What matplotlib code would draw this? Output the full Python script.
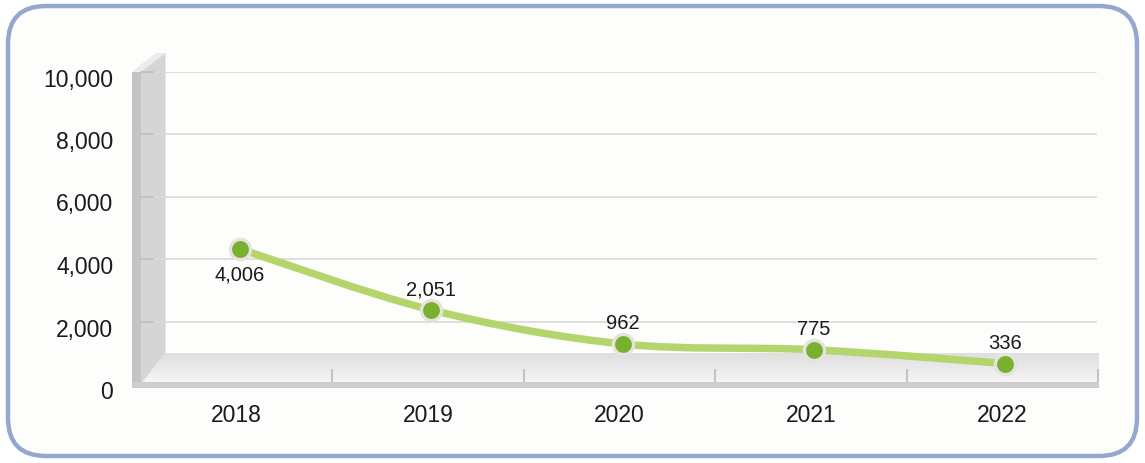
import numpy as np
import matplotlib
matplotlib.use("Agg")
import matplotlib.pyplot as plt
from matplotlib.patches import FancyBboxPatch, Polygon, PathPatch
from matplotlib.path import Path
from matplotlib.transforms import offset_copy, ScaledTranslation

plt.rcParams['font.family'] = ['Liberation Sans', 'DejaVu Sans']

# data
years = ['2018', '2019', '2020', '2021', '2022']
values = [4006, 2051, 962, 775, 336]
value_labels = ['4,006', '2,051', '962', '775', '336']
label_below = [True, False, False, False, False]
yticks = [0, 2000, 4000, 6000, 8000, 10000]
ytick_labels = ['0', '2,000', '4,000', '6,000', '8,000', '10,000']

W, H = 1145, 464
fig = plt.figure(figsize=(W / 100, H / 100), dpi=100)
fig.patch.set_facecolor('white')

# background layer in image pixel coords (y down)
bg = fig.add_axes([0, 0, 1, 1], zorder=0)
bg.axis('off')

bg.add_patch(FancyBboxPatch((8, 7), W - 16, H - 14,
                            boxstyle="round,pad=0,rounding_size=38",
                            facecolor='#fdfdfc', edgecolor='#95a7cf', lw=3.2))

# left wall
bg.add_patch(Polygon([(141, 72.5), (165.5, 54), (165.5, 354), (141, 385)],
                     closed=True, facecolor='#d6d5d6', edgecolor='none'))
bg.add_patch(Polygon([(132, 72.5), (141, 72.5), (165.5, 54), (156, 54)],
                     closed=True, facecolor='#ebebeb', edgecolor='none'))
bg.add_patch(Polygon([(132, 72.5), (141, 72.5), (141, 388), (132, 388)],
                     closed=True, facecolor='#c4c3c7', edgecolor='none'))

# floor with gradient
floor = Polygon([(141, 385), (165.5, 354), (1099, 354), (1099, 383), (141, 383)],
                closed=True, facecolor='none', edgecolor='none')
bg.add_patch(floor)
grad = np.linspace(0, 1, 64).reshape(-1, 1)
img = bg.imshow(grad, cmap=matplotlib.colors.LinearSegmentedColormap.from_list(
    'fl', ['#e0dedf', '#f5f5f5']), extent=(141, 1099, 383, 354),
    aspect='auto', zorder=2, interpolation='bilinear')
img.set_clip_path(floor)
bg.add_patch(Polygon([(132, 383), (1099, 383), (1099, 388.5), (132, 388.5)],
                     closed=True, facecolor='#cfcdd0', edgecolor='none', zorder=3))
bg.set_xlim(0, W)
bg.set_ylim(H, 0)

# main axes
ax = fig.add_axes([141 / W, (H - 385) / H, (1098 - 141) / W, (385 - 72.5) / H],
                  zorder=1)
ax.set_facecolor('none')
x = np.arange(len(years))
ax.set_xlim(-0.5, 4.5)
ax.set_ylim(0, 10000)
for s in ax.spines.values():
    s.set_visible(False)

for t in yticks[1:]:
    ax.plot([-0.5, 4.49], [t, t], color='#d9d9d9', lw=1.2, zorder=1)
    ax.plot([-0.5, -0.437], [t, t], color='#bdbdbd', lw=1.2, zorder=1.5,
            clip_on=False)

# floor separators
ax.vlines(x + 0.5, 60, 480, color='#c4c4c4', lw=1.5, zorder=2, clip_on=False)

ax.set_yticks(yticks)
ax.set_yticklabels(ytick_labels, fontsize=16.5, color='#1a1a1a')
ax.set_xticks(x)
ax.set_xticklabels(years, fontsize=16.5, color='#1a1a1a')
ax.tick_params(axis='y', length=0, pad=20)
ax.tick_params(axis='x', length=0, pad=14)
for tk in ax.yaxis.get_major_ticks():
    tk.label1.set_transform(tk.label1.get_transform() +
                            ScaledTranslation(0, -5 / 100, fig.dpi_scale_trans))

# smoothed line (Catmull-Rom through the data points)
pts = np.column_stack([x, values]).astype(float)
ext = np.vstack([pts[0], pts, pts[-1]])
verts = [tuple(pts[0])]
codes = [Path.MOVETO]
for i in range(len(pts) - 1):
    p0, p1, p2, p3 = ext[i], ext[i + 1], ext[i + 2], ext[i + 3]
    c1 = p1 + (p2 - p0) / 6
    c2 = p2 - (p3 - p1) / 6
    verts += [tuple(c1), tuple(c2), tuple(p2)]
    codes += [Path.CURVE4] * 3
shift = offset_copy(ax.transData, fig=fig, x=3, y=10, units='dots')
ax.add_patch(PathPatch(Path(verts, codes), facecolor='none', edgecolor='#b3d56b',
                       lw=5.4, capstyle='round', joinstyle='round',
                       transform=shift, zorder=3, clip_on=False))
ax.plot(x, values, linestyle='none', marker='o', markersize=14.5,
        markerfacecolor='#79b12f', markeredgecolor='#e3e3e0', markeredgewidth=2.4,
        transform=shift, zorder=4, clip_on=False)

for xi, v, lab, below in zip(x, values, value_labels, label_below):
    dy = -15 if below else 31
    tr = offset_copy(ax.transData, fig=fig, x=3, y=dy, units='dots')
    ax.text(xi, v, lab, transform=tr, ha='center', va='center', fontsize=14.5,
            color='#1a1a1a', zorder=5)

fig.savefig('out.png', dpi=100)
